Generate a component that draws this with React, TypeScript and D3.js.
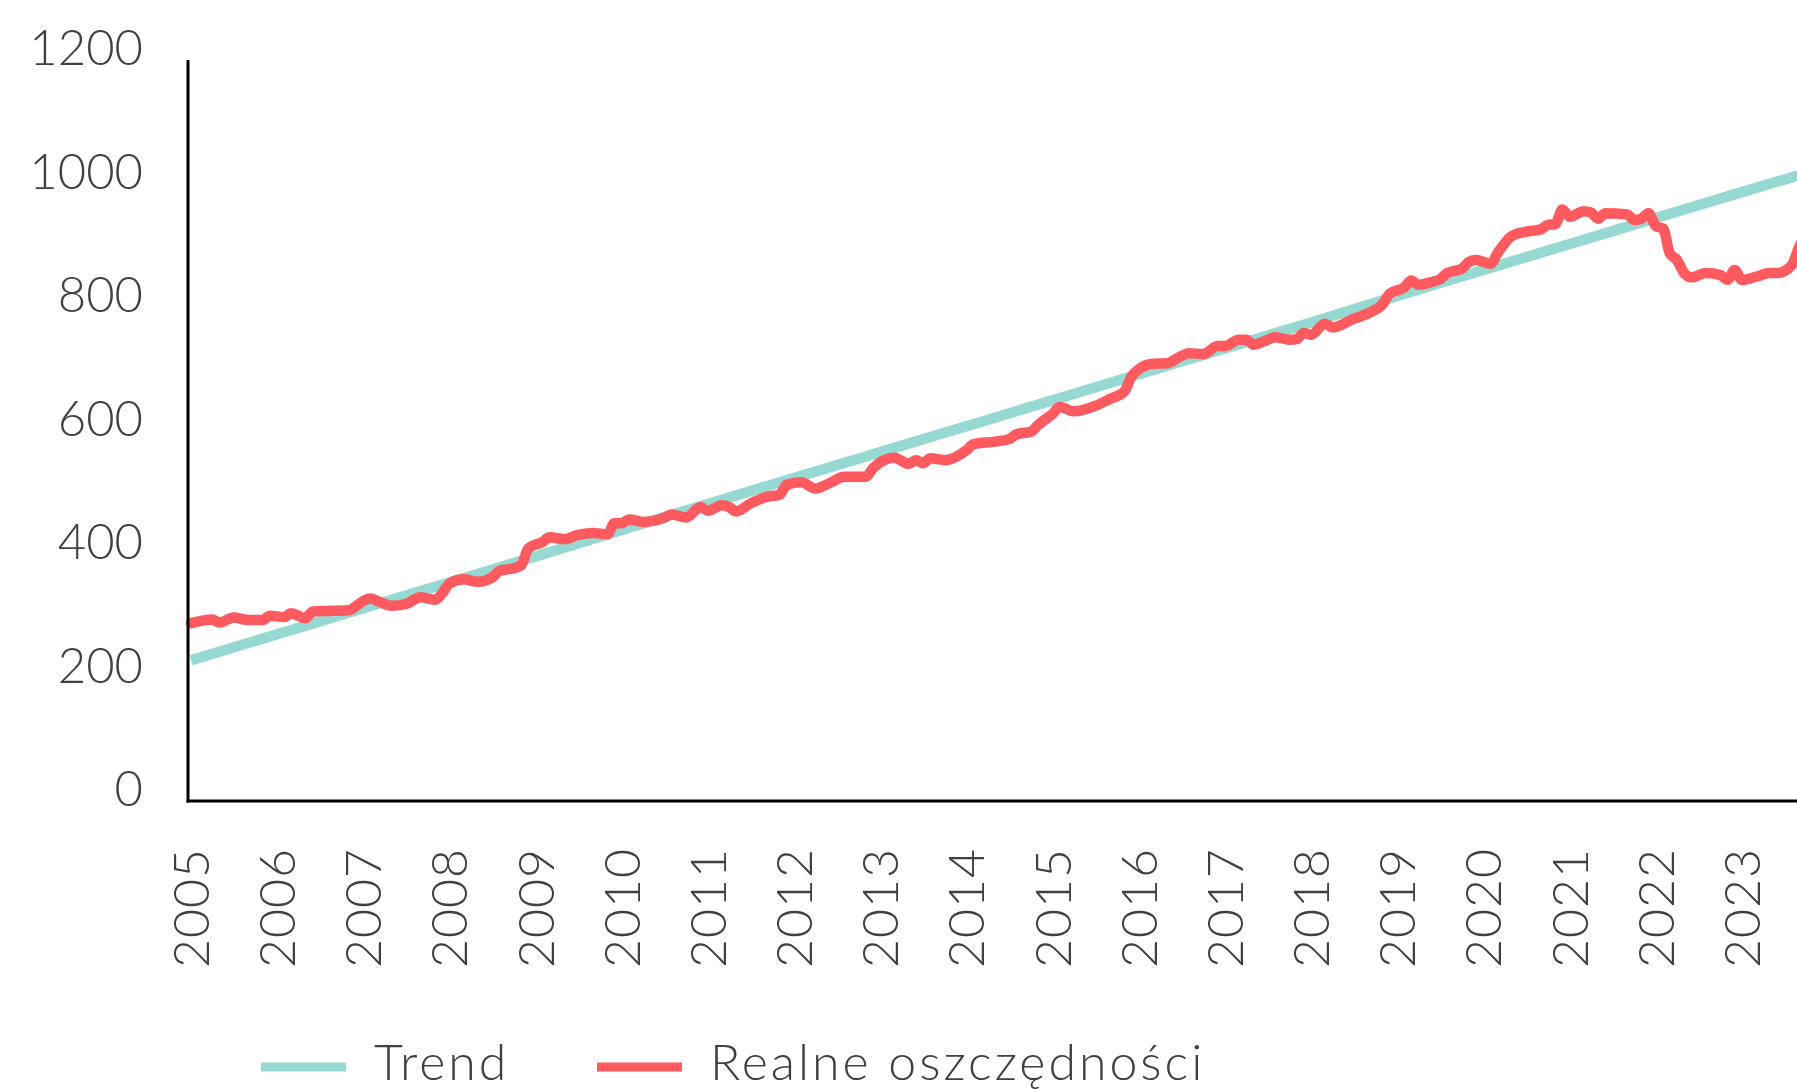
import React, { useRef, useEffect } from 'react';
import * as d3 from 'd3';

// axis labels
const years = d3.range(2005, 2024);
const yTicks = [0, 200, 400, 600, 800, 1000, 1200];

// trend line, read at january of each year (months since jan 2005) + right edge
const trendMonths = [0, 12, 24, 36, 48, 60, 72, 84, 96, 108, 120, 132, 144, 156, 168, 180, 192, 204, 216, 225];
const trendValues = [228, 270, 312, 354, 396, 439, 481, 523, 565, 607, 649, 691, 733, 775, 818, 860, 902, 944, 986, 1017];

// real savings, months since jan 2005
const realMonths = [
  0, 3, 4, 6, 8, 10, 11, 13, 14, 16, 17, 20, 22, 24, 25, 26, 28, 30, 32, 34, 35, 36, 38, 40, 42, 43,
  45, 46, 47, 49, 50, 52, 54, 56, 58, 59, 60, 61, 63, 66, 67, 69, 71, 72, 74, 75, 76, 78, 80, 82, 83, 85, 87, 89,
  91, 94, 95, 98, 100, 101, 102, 103, 105, 108, 109, 112, 114, 115, 117, 118, 120, 121, 123, 126, 128, 130, 131, 132, 134,
  136, 138, 139, 141, 143, 144, 146, 147, 148, 150, 151, 153, 154, 155, 156, 158, 159, 162, 164, 166, 167, 169, 170, 171, 173, 174, 175, 177, 178, 179,
  181, 182, 184, 186, 188, 189, 190, 191, 192, 194, 195, 196, 197, 200, 201, 202, 203, 204, 205, 206, 207, 208, 209,
  211, 213, 214, 215, 216, 218, 220, 221, 223, 224, 225
];
const realValues = [
  288, 294, 289, 297, 293, 293, 300, 298, 304, 296, 307, 308, 309, 324, 328, 324, 316, 319, 330, 326, 336, 352, 359, 355, 362, 373,
  377, 382, 409, 420, 427, 424, 431, 434, 432, 450, 450, 456, 452, 459, 464, 459, 476, 470, 479, 476, 469, 482, 492, 496, 512, 516, 506, 515,
  525, 525, 539, 556, 546, 552, 547, 555, 552, 568, 578, 582, 586, 594, 598, 609, 627, 638, 631, 640, 651, 663, 687, 699, 708,
  709, 721, 725, 724, 737, 737, 747, 747, 739, 747, 751, 747, 748, 758, 755, 773, 767, 781, 790, 805, 822, 832, 843, 836, 841, 845, 855, 862, 873, 876,
  870, 887, 915, 922, 926, 933, 934, 958, 946, 955, 953, 943, 952, 950, 941, 943, 952, 931, 927, 887, 876, 855, 848,
  855, 852, 844, 860, 844, 849, 855, 855, 868, 898, 915
];

const TEAL = '#95d9d2';
const RED = '#ff5a5f';
const TXT = '#404040';
const FONT = 'Lato, "Open Sans", sans-serif';

export default function App() {
  const ref = useRef<SVGSVGElement>(null);
  const width = 1797;
  const height = 1090;
  const axisX = 188;

  useEffect(() => {
    const svg = d3.select(ref.current);
    svg.selectAll('*').remove();

    const start = new Date(2005, 0, 1);
    const toDate = (m: number) => d3.timeMonth.offset(start, m);

    const x = d3.scaleTime()
      .domain([start, new Date(2024, 0, 1)])
      .range([191, 191 + 228 * 7.18]);
    const y = d3.scaleLinear().domain([0, 1200]).range([801, 60]);

    const line = d3.line<[number, number]>()
      .x(d => x(toDate(d[0])))
      .y(d => y(d[1]))
      .curve(d3.curveMonotoneX);

// lines
    svg.append('path')
      .datum(trendMonths.map((m, i) => [m, trendValues[i]] as [number, number]))
      .attr('d', line)
      .attr('fill', 'none')
      .attr('stroke', TEAL)
      .attr('stroke-width', 10.5);

    svg.append('path')
      .datum(realMonths.map((m, i) => [m, realValues[i]] as [number, number]))
      .attr('d', line)
      .attr('fill', 'none')
      .attr('stroke', RED)
      .attr('stroke-width', 10.5)
      .attr('stroke-linejoin', 'round')
      .attr('stroke-linecap', 'round');

// axes
    svg.append('line')
      .attr('x1', axisX).attr('x2', axisX)
      .attr('y1', y(1200)).attr('y2', y(0) + 1.5)
      .attr('stroke', '#000').attr('stroke-width', 3);
    svg.append('line')
      .attr('x1', axisX - 1.5).attr('x2', width)
      .attr('y1', y(0)).attr('y2', y(0))
      .attr('stroke', '#000').attr('stroke-width', 3);

// y labels
    svg.append('g')
      .selectAll('text')
      .data(yTicks)
      .enter()
      .append('text')
      .attr('x', 143)
      .attr('y', d => y(d) + 5)
      .attr('text-anchor', 'end')
      .attr('font-family', FONT)
      .attr('font-weight', 300)
      .attr('font-size', 49)
      .attr('fill', TXT)
      .text(d => d);

// x labels
    svg.append('g')
      .selectAll('text')
      .data(years)
      .enter()
      .append('text')
      .attr('transform', d => `translate(${x(new Date(d, 0, 1)) + 18},848) rotate(-90)`)
      .attr('text-anchor', 'end')
      .attr('font-family', FONT)
      .attr('font-weight', 300)
      .attr('font-size', 50)
      .attr('letter-spacing', 1)
      .attr('fill', TXT)
      .text(d => d);

// legend
    const legend = [
      { label: 'Trend', color: TEAL, x: 261 },
      { label: 'Realne oszczędności', color: RED, x: 597 },
    ];
    const lg = svg.append('g').selectAll('g').data(legend).enter().append('g');
    lg.append('line')
      .attr('x1', d => d.x).attr('x2', d => d.x + 85)
      .attr('y1', 1067).attr('y2', 1067)
      .attr('stroke', d => d.color).attr('stroke-width', 9);
    lg.append('text')
      .attr('x', d => d.x + 113)
      .attr('y', 1080)
      .attr('font-family', FONT)
      .attr('font-weight', 300)
      .attr('font-size', 50)
      .attr('letter-spacing', 3)
      .attr('fill', TXT)
      .text(d => d.label);
  }, []);

  return (
    <div style={{ position: 'absolute', left: 0, top: 0, width, height, overflow: 'hidden', background: '#fff' }}>
      <svg ref={ref} width={width} height={height} />
    </div>
  );
}
